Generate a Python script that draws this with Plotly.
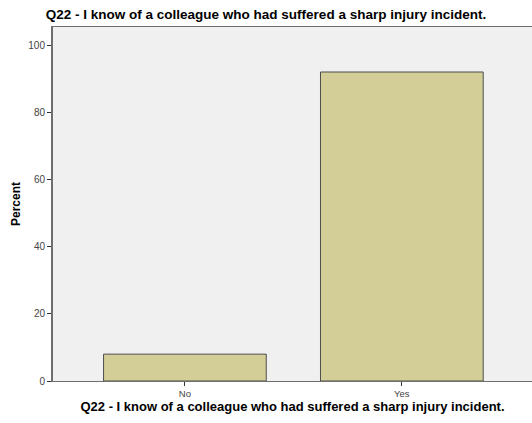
import plotly.graph_objects as go

categories = ["No", "Yes"]
percent = [8.0, 92.0]
y_ticks = [0, 20, 40, 60, 80, 100]
title_text = "Q22 - I know of a colleague who had suffered a sharp injury incident."

fig = go.Figure(go.Bar(
    x=list(range(len(categories))), y=percent, width=0.75,
    marker=dict(color="#d3ce97", line=dict(color="#4d4d4d", width=1)),
    hoverinfo="skip",
))
fig.update_layout(
    width=532, height=423,
    margin=dict(l=53, r=0, t=27, b=42),
    paper_bgcolor="white", plot_bgcolor="#f0f0f0",
    showlegend=False,
    title=dict(text="<b>" + title_text + "</b>", x=0.5, xanchor="center", y=1 - 14/423, yanchor="middle",
               font=dict(family="Liberation Sans, Arial", size=13.5, color="black")),
    font=dict(family="Liberation Sans, Arial"),
)
fig.update_xaxes(
    range=[-0.608, 1.6], tickvals=list(range(len(categories))), ticktext=categories,
    showgrid=False, zeroline=False, showline=True, linecolor="#6e6e6e", linewidth=1, mirror=True,
    ticks="outside", ticklen=4, tickcolor="#333", tickfont=dict(size=9.5, color="#444"),
    title=dict(text="<b>" + title_text + "</b>", font=dict(size=13, color="black"), standoff=3),
)
fig.update_yaxes(
    range=[0, 105.4], tickvals=y_ticks,
    showgrid=False, zeroline=False, showline=True, linecolor="#6e6e6e", linewidth=2,
    ticks="outside", ticklen=4, tickcolor="#333", tickfont=dict(size=10, color="#444"),
    title=dict(text="<b>Percent</b>", font=dict(size=12, color="black"), standoff=5),
)
fig.write_html("out.html", config={"displayModeBar": False},
               post_script="document.body.style.margin='0';document.body.style.overflow='hidden';")
